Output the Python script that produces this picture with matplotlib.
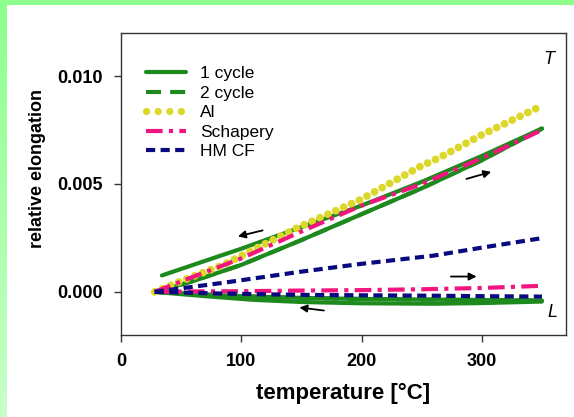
"""Thermal elongation of a fibre composite: measured loops vs. model predictions."""

import matplotlib
matplotlib.use("Agg")
import matplotlib.pyplot as plt
import numpy as np


COLORS = {
    "green": "#1E8A1E",
    "yellow": "#DCD82A",
    "pink": "#F0157F",
    "navy": "#0A0A80",
    "frame": "#8CFF8C",
    "frame_light": "#C8FFC8",
    "spine": "#333333",
}

# --- measured: 1 cycle, transverse (T) direction ---
t_heat_T = [28, 60, 100, 150, 200, 250, 300, 350]
e_heat_T = [0.0, 0.0005, 0.00125, 0.0024, 0.0036, 0.0048, 0.0061, 0.00757]
t_cool_T = [350, 300, 250, 200, 150, 100, 85, 60, 34]
e_cool_T = [0.00757, 0.0063, 0.0051, 0.0040, 0.0030, 0.0020, 0.00172, 0.00125, 0.00076]

# --- measured: 1 cycle, longitudinal (L) direction ---
t_heat_L = [28, 60, 100, 150, 200, 260, 300, 350]
e_heat_L = [0.0, -0.0001, -0.0002, -0.00028, -0.00033, -0.00036, -0.00038, -0.0004]
t_cool_L = [350, 300, 260, 200, 150, 110, 70, 40, 30]
e_cool_L = [-0.00045, -0.00052, -0.00055, -0.00053, -0.00047, -0.00037, -0.0002, -0.00006, -0.00001]

# --- measured: 2 cycle (overlaps the first heating branches) ---
t_cyc2_T = [28, 60, 100, 150, 200, 250, 300, 350]
e_cyc2_T = [0.0, 0.0005, 0.00125, 0.0024, 0.0036, 0.0048, 0.0061, 0.00757]
t_cyc2_L = [28, 60, 100, 150, 200, 260, 300, 350]
e_cyc2_L = [0.0, -0.0001, -0.0002, -0.00028, -0.00033, -0.00036, -0.00038, -0.0004]

# --- models ---
t_ai = [28, 50, 85, 124, 149, 199, 249, 264, 300, 347]
e_ai = [0.0, 0.0005, 0.00125, 0.00234, 0.00303, 0.00427, 0.00582, 0.0062, 0.00728, 0.00855]

t_model = [28, 60, 100, 150, 200, 250, 300, 350]
e_schapery_T = [0.0, 0.0007, 0.00155, 0.0028, 0.0040, 0.0050, 0.0062, 0.0075]
e_schapery_L = [0.0, 0.00002, 0.00003, 0.00006, 0.00008, 0.00012, 0.00018, 0.00028]

t_hmcf = [28, 85, 149, 200, 260, 300, 350]
e_hmcf_T = [0.0, 0.00042, 0.00093, 0.0013, 0.00168, 0.00205, 0.00249]
e_hmcf_L = [0.0, -0.00008, -0.00014, -0.00016, -0.00018, -0.0002, -0.00022]

x_ticks = [0, 100, 200, 300]
y_ticks = [0.0, 0.005, 0.010]
legend_labels = ["1 cycle", "2 cycle", "Al", "Schapery", "HM CF"]

plt.rcParams.update({"font.family": ["Liberation Sans", "DejaVu Sans"]})

W, H = 574, 417
fig = plt.figure(figsize=(W / 100, H / 100), dpi=100)

# green slide frame (top bar + left gradient bar)
bg = fig.add_axes([0, 0, 1, 1], zorder=-5)
bg.set_xlim(0, W)
bg.set_ylim(H, 0)
bg.axis("off")
bg.add_patch(plt.Rectangle((0, 0), W, 4.5, color=COLORS["frame"], lw=0))
grad = np.linspace(0, 1, 256).reshape(-1, 1)
cmap = matplotlib.colors.LinearSegmentedColormap.from_list(
    "frame", [COLORS["frame"], COLORS["frame_light"]]
)
bg.imshow(grad, cmap=cmap, extent=(0, 7, H, 0), aspect="auto")

ax = fig.add_axes([121 / W, 1 - 335 / H, 445 / W, 302 / H])
lw = 3.0

solid = dict(color=COLORS["green"], lw=lw, solid_capstyle="round")
ax.plot(t_heat_T, e_heat_T, **solid)
ax.plot(t_cool_T, e_cool_T, **solid)
ax.plot(t_heat_L, e_heat_L, **solid)
ax.plot(t_cool_L, e_cool_L, **solid)

cyc2 = dict(color=COLORS["green"], lw=lw, ls=(0, (3.6, 2.2)))
ax.plot(t_cyc2_T, e_cyc2_T, **cyc2)
ax.plot(t_cyc2_L, e_cyc2_L, **cyc2)

dots = dict(color=COLORS["yellow"], lw=5.6, ls=(0, (0.01, 1.1)), dash_capstyle="round")
ax.plot(t_ai, e_ai, **dots)

dashdot = dict(color=COLORS["pink"], lw=lw, ls=(0, (4, 1.5, 1, 1.5)))
ax.plot(t_model, e_schapery_T, **dashdot)
ax.plot(t_model, e_schapery_L, **dashdot)

dashed = dict(color=COLORS["navy"], lw=lw, ls=(0, (2.2, 1.3)))
ax.plot(t_hmcf, e_hmcf_T, **dashed)
ax.plot(t_hmcf, e_hmcf_L, **dashed)

# direction arrows
arrows = [
    ((120, 0.00288), (95, 0.00254)),
    ((285, 0.0052), (310, 0.0056)),
    ((272, 0.00071), (298, 0.00071)),
    ((171, -0.00088), (146, -0.00071)),
]
for tail, head in arrows:
    ax.annotate("", xy=head, xytext=tail,
                arrowprops=dict(arrowstyle="-|>", color="black", lw=1.3, mutation_scale=11))

ax.text(356, 0.01077, "T", style="italic", fontsize=13, ha="center", va="center")
ax.text(359, -0.00098, "L", style="italic", fontsize=13, ha="center", va="center")

ax.set_xlim(0, 370)
ax.set_ylim(-0.002, 0.012)
ax.set_xticks(x_ticks)
ax.set_xticklabels([str(v) for v in x_ticks], fontweight="bold", fontsize=13)
ax.set_yticks(y_ticks)
ax.set_yticklabels([f"{v:.3f}" for v in y_ticks], fontweight="bold", fontsize=13)
ax.tick_params(direction="out", length=5, width=1, pad=8, color=COLORS["spine"])
for spine in ax.spines.values():
    spine.set_color(COLORS["spine"])
    spine.set_linewidth(1)

ax.set_xlabel("temperature [°C]", fontsize=16, fontweight="bold", labelpad=9)
ax.set_ylabel("relative elongation", fontsize=13, fontweight="bold", labelpad=8, y=0.55)

handles = [
    plt.Line2D([], [], **solid),
    plt.Line2D([], [], **cyc2),
    plt.Line2D([], [], color=COLORS["yellow"], lw=5.2, ls=(0, (0.01, 1.6)), dash_capstyle="round"),
    plt.Line2D([], [], **dashdot),
    plt.Line2D([], [], **dashed),
]
fig.legend(handles, legend_labels, loc="upper left", bbox_to_anchor=(146 / W, 1 - 66 / H),
           frameon=False, fontsize=12.5, handlelength=2.3, handletextpad=0.8,
           labelspacing=0.25, borderpad=0, borderaxespad=0)

fig.savefig("out.png", dpi=100)
